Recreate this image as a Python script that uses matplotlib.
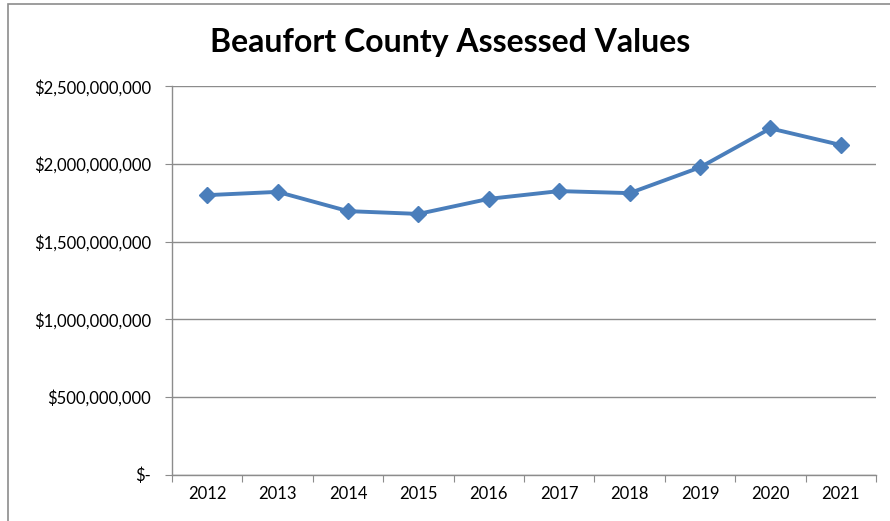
import matplotlib
matplotlib.use('Agg')
import matplotlib.pyplot as plt
from matplotlib.patches import Rectangle
from matplotlib.ticker import FuncFormatter, FixedLocator

years = ['2012', '2013', '2014', '2015', '2016', '2017', '2018', '2019', '2020', '2021']
assessed = [1.800e9, 1.821e9, 1.697e9, 1.679e9, 1.776e9, 1.826e9, 1.813e9, 1.979e9, 2.230e9, 2.123e9]


def money(v, pos):
    if v == 0:
        return '$-'
    return '${:,.0f}'.format(v)


plt.rcParams['font.family'] = ['Lato', 'DejaVu Sans']

fig = plt.figure(figsize=(8.9, 5.21), dpi=100)
ax = fig.add_axes([172 / 890, 46.5 / 521, 704 / 890, 388 / 521])

x = range(len(years))
ax.plot(x, assessed, color='#4A7EBB', lw=2.8, marker='D', markersize=8,
        markerfacecolor='#4A7EBB', markeredgecolor='#4A7EBB')

ax.set_ylim(0, 2.5e9)
ax.set_yticks([0, 5e8, 1e9, 1.5e9, 2e9, 2.5e9])
ax.yaxis.set_major_formatter(FuncFormatter(money))
ax.set_xlim(-0.5, len(years) - 0.5)
ax.xaxis.set_major_locator(FixedLocator([i - 0.5 for i in range(len(years) + 1)]))
ax.xaxis.set_minor_locator(FixedLocator(list(x)))
ax.set_xticklabels([''] * (len(years) + 1))
ax.set_xticklabels(years, minor=True)
ax.tick_params(axis='x', which='minor', length=0, labelsize=12, pad=8)
ax.tick_params(axis='x', which='major', length=5, color='#8C8C8C', direction='out')
ax.tick_params(axis='y', length=5, color='#8C8C8C', labelsize=12, pad=10)

ax.grid(axis='y', color='#8C8C8C', lw=1)
ax.set_axisbelow(True)
for side in ['top', 'right']:
    ax.spines[side].set_visible(False)
for side in ['left', 'bottom']:
    ax.spines[side].set_color('#8C8C8C')
    ax.spines[side].set_linewidth(1)

fig.text(0.506, 0.918, 'Beaufort County Assessed Values', ha='center', va='center',
         fontsize=23, fontweight='bold')

# outer chart frame, cut off at right and bottom like the source
fig.patches.append(Rectangle((7.5 / 890, -0.05), 1.0, 1.05 - 3.5 / 521, transform=fig.transFigure,
                             fill=False, edgecolor='#8C8C8C', lw=1.2))

fig.savefig('out.png', dpi=100)
